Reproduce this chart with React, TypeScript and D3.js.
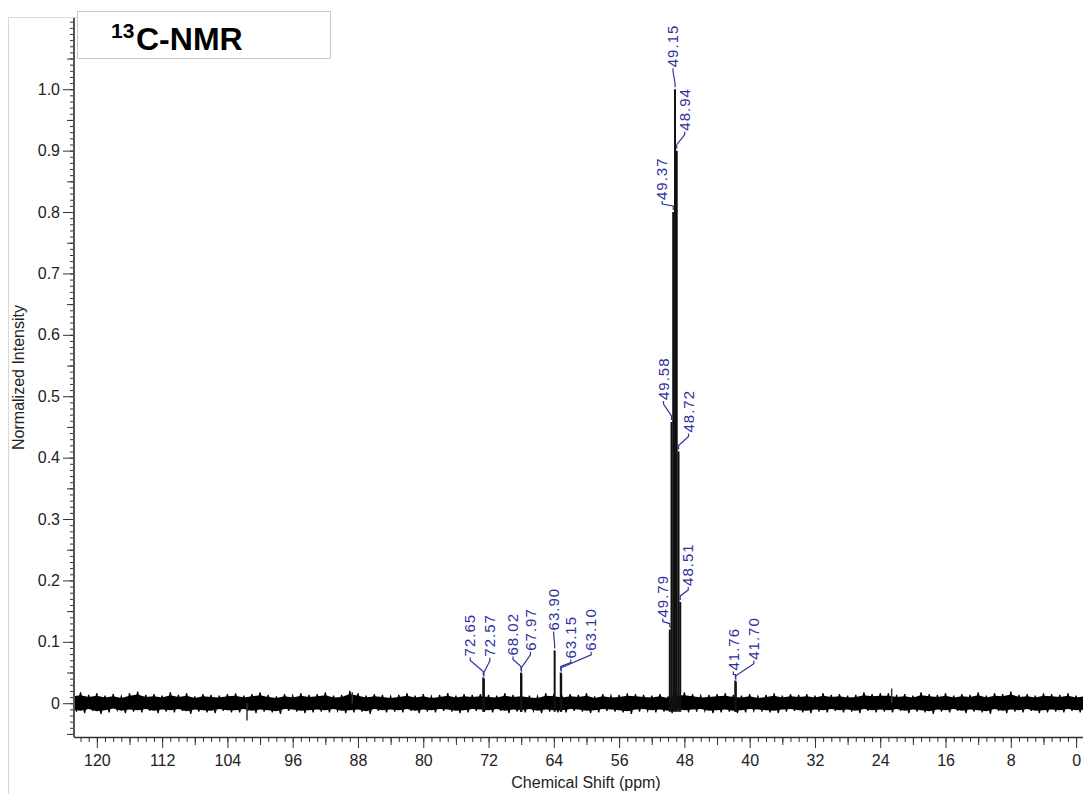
import React, { useEffect, useRef } from "react";
import * as d3 from "d3";

// peak list (ppm) and normalized heights
const peakShifts = [72.65, 72.57, 68.02, 67.97, 63.9, 63.15, 63.1, 49.79, 49.58, 49.37, 49.15, 48.94, 48.72, 48.51, 41.76, 41.7];
const peakHeights = [0.042, 0.04, 0.05, 0.048, 0.086, 0.05, 0.048, 0.12, 0.458, 0.8, 1.0, 0.9, 0.41, 0.165, 0.037, 0.035];

// odd single spikes in the baseline
const spikeShifts = [101.6, 88.7, 22.6];
const spikeHeights = [-0.028, 0.018, 0.024];

// baseline noise envelope, one value per ppm from 123 down to -1 (units of 0.00125)
const noiseFirstShift = 123;
const noiseUnit = 0.00125;
const noiseUpper = [
  12, 14, 11, 13, 10, 12, 9, 13, 15, 11,
  12, 10, 14, 11, 13, 9, 12, 11, 10, 12,
  13, 10, 12, 14, 11, 9, 12, 10, 13, 11,
  12, 14, 10, 11, 16, 13, 10, 12, 11, 9,
  11, 13, 10, 12, 9, 11, 13, 10, 12, 11,
  12, 11, 10, 13, 11, 12, 10, 9, 13, 12,
  10, 12, 11, 13, 9, 12, 10, 11, 13, 12,
  11, 10, 12, 9, 13, 14, 12, 10, 11, 12,
  13, 11, 10, 12, 9, 11, 13, 10, 12, 11,
  12, 10, 13, 11, 12, 10, 11, 14, 12, 13,
  13, 11, 12, 10, 14, 12, 11, 13, 10, 12,
  11, 14, 10, 13, 12, 15, 11, 12, 10, 13,
  12, 11, 13, 10, 12,
];
const noiseLower = [
  11, 13, 10, 14, 12, 9, 13, 11, 12, 10,
  13, 11, 12, 10, 14, 11, 12, 13, 10, 12,
  12, 10, 13, 11, 12, 14, 10, 11, 13, 12,
  11, 12, 10, 13, 12, 11, 14, 10, 12, 11,
  12, 10, 13, 11, 12, 10, 11, 13, 12, 10,
  11, 12, 10, 13, 11, 12, 10, 13, 11, 12,
  12, 10, 11, 13, 12, 10, 11, 12, 14, 11,
  10, 12, 11, 13, 10, 12, 11, 10, 13, 12,
  11, 13, 12, 10, 11, 12, 13, 11, 10, 12,
  13, 11, 12, 10, 12, 11, 13, 10, 12, 11,
  12, 10, 13, 11, 12, 14, 11, 12, 10, 13,
  11, 12, 14, 10, 13, 11, 12, 10, 13, 12,
  11, 12, 10, 12, 11,
];

const xTickValues = [120, 112, 104, 96, 88, 80, 72, 64, 56, 48, 40, 32, 24, 16, 8, 0];
const yTickValues = [0, 0.1, 0.2, 0.3, 0.4, 0.5, 0.6, 0.7, 0.8, 0.9, 1.0];

// label placement: text offset from its peak (px) and lift above peak top (px)
const labelDx = [-13, 6, -8, 9, -1, 10, 30, -7, -8, -11, -2, 8, 10, 8, -2, 18];
const labelLift = [21, 22, 17, 23, 20, 14, 23, 12, 22, 12, 22, 20, 19, 16, 10, 22];

const FONT = "'Liberation Sans', Arial, Helvetica, sans-serif";
const BLUE = "#30309c";

const App = () => {
  const chartRef = useRef(null);

  useEffect(() => {
    drawChart();
  }, []);

  const drawChart = () => {
    const width = 1083;
    const height = 794;
    const left = 74;
    const right = 1081;
    const top = 18;
    const bottom = 737;

    const svg = d3.select(chartRef.current);
    svg.selectAll("*").remove();
    svg.attr("width", width).attr("height", height);

    const x = d3.scaleLinear().domain([122.8, -0.6]).range([left, right]);
    const y = d3.scaleLinear().domain([-0.055, 1.116]).range([bottom, top]);

    // outer frame bits
    svg.append("line").attr("x1", 8.5).attr("x2", 8.5).attr("y1", 17).attr("y2", height)
      .attr("stroke", "#d8d8d8");
    svg.append("line").attr("x1", 8).attr("x2", 77).attr("y1", 17.5).attr("y2", 17.5)
      .attr("stroke", "#d8d8d8");

    svg.append("clipPath").attr("id", "plotClip")
      .append("rect").attr("x", left + 1).attr("y", top).attr("width", width - left).attr("height", bottom - top + 8);

    const plot = svg.append("g").attr("clip-path", "url(#plotClip)");

    // baseline noise: dense core plus a jagged trace between the envelope values
    const noise = noiseUpper.map((u, i) => ({
      ppm: noiseFirstShift - i,
      hi: u * noiseUnit,
      lo: -noiseLower[i] * noiseUnit,
    }));
    plot.append("path")
      .datum(noise)
      .attr("d", d3.area().x((d) => x(d.ppm)).y0((d) => y(d.lo * 0.75)).y1((d) => y(d.hi * 0.75)))
      .attr("fill", "#000");
    const trace = noise.flatMap((d) => [
      [x(d.ppm), y(d.hi)],
      [x(d.ppm - 0.5), y(d.lo)],
    ]);
    plot.append("path")
      .attr("d", d3.line()(trace))
      .attr("fill", "none")
      .attr("stroke", "#000")
      .attr("stroke-width", 1.2);

    // spikes
    plot.selectAll("line.spike")
      .data(spikeShifts)
      .enter()
      .append("line")
      .attr("class", "spike")
      .attr("x1", (d) => x(d)).attr("x2", (d) => x(d))
      .attr("y1", y(0)).attr("y2", (d, i) => y(spikeHeights[i]))
      .attr("stroke", "#333").attr("stroke-width", 1.5);

    // peaks
    plot.selectAll("line.peak")
      .data(peakShifts)
      .enter()
      .append("line")
      .attr("class", "peak")
      .attr("x1", (d) => x(d)).attr("x2", (d) => x(d))
      .attr("y1", y(-0.014)).attr("y2", (d, i) => y(peakHeights[i]))
      .attr("stroke", "#111").attr("stroke-width", 2);

    // peak labels with connectors
    const labels = svg.append("g");
    peakShifts.forEach((ppm, i) => {
      const px = x(ppm);
      const py = y(peakHeights[i]);
      const tx = px + labelDx[i];
      const tb = py - labelLift[i];
      const pts = [
        [px, py - 2],
        [px, py - 6],
        [tx, tb + 4],
        [tx, tb + 1],
      ];
      labels.append("path")
        .attr("d", d3.line()(pts))
        .attr("fill", "none")
        .attr("stroke", BLUE)
        .attr("stroke-width", 1.2);
      labels.append("text")
        .attr("transform", `translate(${tx},${tb}) rotate(-90)`)
        .attr("dy", "0.35em")
        .attr("fill", BLUE)
        .attr("font-family", FONT)
        .attr("font-size", 15)
        .attr("letter-spacing", 1)
        .text(ppm.toFixed(2));
    });

    // x axis
    const xg = svg.append("g").attr("transform", `translate(0,${bottom})`);
    xg.append("g").call(d3.axisBottom(x).tickValues(d3.range(0, 123, 1)).tickSize(5).tickSizeOuter(0).tickFormat(() => ""));
    xg.append("g").call(d3.axisBottom(x).tickValues(d3.range(4, 121, 8)).tickSize(8).tickSizeOuter(0).tickFormat(() => ""));
    xg.append("g").call(d3.axisBottom(x).tickValues(xTickValues).tickSize(11).tickPadding(7).tickSizeOuter(0).tickFormat(d3.format("d")));
    xg.selectAll(".domain").remove();
    xg.append("line").attr("x1", left).attr("x2", width).attr("y1", 0.5).attr("y2", 0.5).attr("stroke", "#333").attr("stroke-width", 1.5);

    // y axis
    const yg = svg.append("g").attr("transform", `translate(${left},0)`);
    yg.append("g").call(d3.axisLeft(y).tickValues(d3.range(-5, 112, 1).map((v) => v / 100)).tickSize(4).tickSizeOuter(0).tickFormat(() => ""));
    yg.append("g").call(d3.axisLeft(y).tickValues(d3.range(-5, 112, 10).map((v) => v / 100)).tickSize(7).tickSizeOuter(0).tickFormat(() => ""));
    yg.append("g").call(d3.axisLeft(y).tickValues(yTickValues).tickSize(11).tickPadding(3).tickSizeOuter(0)
      .tickFormat((d) => (d === 0 ? "0" : d3.format(".1f")(d))));
    yg.selectAll(".domain").remove();
    yg.append("line").attr("x1", 0).attr("x2", 0).attr("y1", top).attr("y2", bottom).attr("stroke", "#555").attr("stroke-width", 2);

    svg.selectAll(".tick line").attr("stroke", "#333");
    svg.selectAll(".tick text").attr("fill", "#222").attr("font-family", FONT).attr("font-size", 16);

    // axis titles
    svg.append("text")
      .attr("x", 586).attr("y", 788)
      .attr("text-anchor", "middle")
      .attr("font-family", FONT).attr("font-size", 16).attr("fill", "#222")
      .text("Chemical Shift (ppm)");
    svg.append("text")
      .attr("transform", `translate(24,${(top + bottom) / 2}) rotate(-90)`)
      .attr("text-anchor", "middle")
      .attr("font-family", FONT).attr("font-size", 16).attr("fill", "#222")
      .text("Normalized Intensity");

    // title box
    svg.append("rect").attr("x", 77.5).attr("y", 11.5).attr("width", 253).attr("height", 47)
      .attr("fill", "#fff").attr("stroke", "#c8c8c8");
    const title = svg.append("text").attr("font-family", FONT).attr("font-weight", "bold").attr("fill", "#000");
    title.append("tspan").attr("x", 111).attr("y", 38).attr("font-size", 21).text("13");
    title.append("tspan").attr("x", 136).attr("y", 50).attr("font-size", 32).text("C-NMR");
  };

  return (
    <svg
      ref={chartRef}
      style={{ position: "absolute", left: 0, top: 0, background: "#fff" }}
    ></svg>
  );
};

export default App;
